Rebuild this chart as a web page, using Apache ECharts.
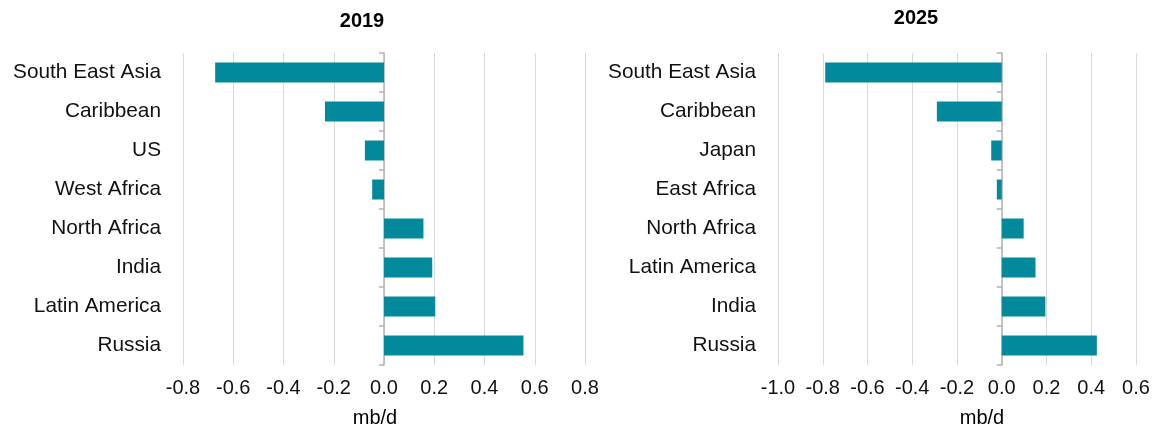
<!DOCTYPE html>
<html><head><meta charset="utf-8">
<script src="https://cdn.jsdelivr.net/npm/echarts@6/dist/echarts.min.js"></script>
<style>html,body{margin:0;padding:0;background:#fff}#c{width:1159px;height:431px}</style>
</head><body><div id="c"></div>
<script>
const cats2019 = ['South East Asia','Caribbean','US','West Africa','North Africa','India','Latin America','Russia'];
const vals2019 = [-0.672, -0.235, -0.076, -0.047, 0.157, 0.192, 0.204, 0.555];
const cats2025 = ['South East Asia','Caribbean','Japan','East Africa','North Africa','Latin America','India','Russia'];
const vals2025 = [-0.789, -0.290, -0.047, -0.022, 0.098, 0.151, 0.195, 0.425];
const axis2019 = {min: -0.8, max: 0.8, interval: 0.2};
const axis2025 = {min: -1.0, max: 0.6, interval: 0.2};
const titles = ['2019', '2025'];
const unitLabel = 'mb/d';

const FONT = 'Liberation Sans, Arial, Helvetica, sans-serif';
const TXT = '#111';
const BAR = '#03899c';
const fmt = v => (Math.abs(v) < 1e-9 ? 0 : v).toFixed(1);

function xAxis(i, a) {
  return {
    type: 'value', gridIndex: i, min: a.min, max: a.max, interval: a.interval,
    axisLine: {show: false}, axisTick: {show: false},
    splitLine: {show: true, lineStyle: {color: '#d9d9d9', width: 1}},
    axisLabel: {fontSize: 20, color: TXT, fontFamily: FONT, margin: 13, formatter: fmt}
  };
}
function yLabelAxis(i, cats) {
  return {
    type: 'category', gridIndex: i, data: cats, inverse: true,
    axisLine: {show: false, onZero: false}, axisTick: {show: false},
    axisLabel: {fontSize: 20.8, color: TXT, fontFamily: FONT, margin: 22}
  };
}
function yLineAxis(i, cats) {
  return {
    type: 'category', gridIndex: i, data: cats, inverse: true,
    axisLine: {show: true, onZero: true, lineStyle: {color: '#b3b3b3', width: 1.5}},
    axisTick: {show: true, inside: true, length: 5, lineStyle: {color: '#b3b3b3', width: 1.5}},
    axisLabel: {show: false}, splitLine: {show: false}
  };
}
function txt(t, x, y, bold) {
  return {type: 'text', x: x, y: y, z: 10,
    style: {text: t, font: (bold ? 'bold ' : '') + '20px ' + FONT, fill: '#000',
      textAlign: 'center', align: 'center', textVerticalAlign: 'middle', verticalAlign: 'middle'}};
}

const chart = echarts.init(document.getElementById('c'), null, {renderer: 'canvas'});
chart.setOption({
  animation: false,
  backgroundColor: '#fff',
  textStyle: {fontFamily: FONT},
  grid: [
    {left: 183, top: 53, width: 402, height: 312},
    {left: 778, top: 53, width: 358, height: 312}
  ],
  xAxis: [xAxis(0, axis2019), xAxis(1, axis2025)],
  yAxis: [yLabelAxis(0, cats2019), yLineAxis(0, cats2019), yLabelAxis(1, cats2025), yLineAxis(1, cats2025)],
  series: [
    {type: 'bar', xAxisIndex: 0, yAxisIndex: 0, data: vals2019, barWidth: 20, itemStyle: {color: BAR}},
    {type: 'bar', xAxisIndex: 1, yAxisIndex: 2, data: vals2025, barWidth: 20, itemStyle: {color: BAR}}
  ],
  graphic: [
    txt(titles[0], 362, 21, true),
    txt(titles[1], 916, 18, true),
    txt(unitLabel, 375, 418, false),
    txt(unitLabel, 982, 418, false)
  ]
});
</script></body></html>
